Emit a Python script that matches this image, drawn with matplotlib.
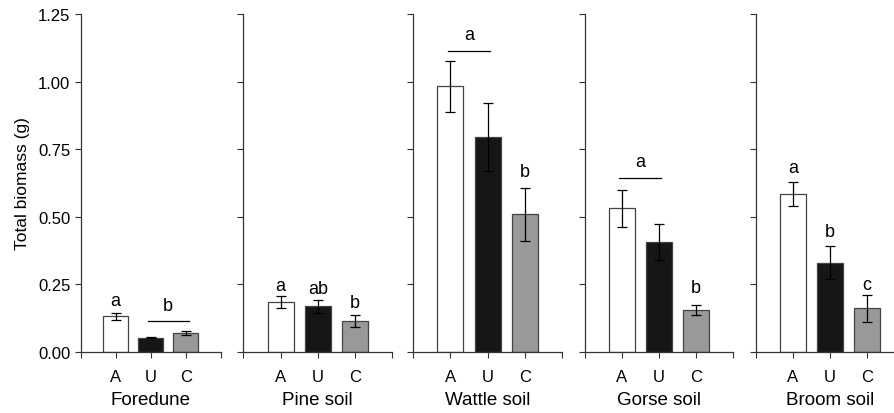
import matplotlib
matplotlib.use("Agg")
import matplotlib.pyplot as plt

plt.rcParams['font.family'] = ['Liberation Sans', 'DejaVu Sans']

categories = ['Foredune', 'Pine soil', 'Wattle soil', 'Gorse soil', 'Broom soil']
groups = ['A', 'U', 'C']
means = [
    [0.132, 0.052, 0.070],
    [0.185, 0.169, 0.115],
    [0.983, 0.796, 0.509],
    [0.531, 0.407, 0.156],
    [0.584, 0.330, 0.162],
]
errors = [
    [0.013, 0.002, 0.007],
    [0.022, 0.025, 0.022],
    [0.095, 0.125, 0.097],
    [0.068, 0.067, 0.019],
    [0.043, 0.061, 0.050],
]
# significance letters: (text, x, baseline y)
letters = [
    [('a', 1, 0.175), ('b', 2.5, 0.156)],
    [('a', 1, 0.228), ('ab', 2, 0.220), ('b', 3, 0.168)],
    [('a', 1.5, 1.159), ('b', 3, 0.651)],
    [('a', 1.5, 0.689), ('b', 3, 0.221)],
    [('a', 1, 0.664), ('b', 2, 0.428), ('c', 3, 0.232)],
]
# grouping lines: (x0, x1, y)
group_lines = [
    [(1.91, 3.10, 0.114)],
    [],
    [(0.93, 2.07, 1.113)],
    [(0.93, 2.05, 0.642)],
    [],
]
yticks = [0.0, 0.25, 0.5, 0.75, 1.0, 1.25]
bar_colors = ['white', '#161616', '#999999']

W, H = 895, 414
fig = plt.figure(figsize=(W / 100, H / 100), dpi=100)
panel_px = [(80.7, 220.7), (243.3, 392.3), (413.3, 562.0), (585.0, 733.0), (756.0, 904.0)]
bottom_px, top_px = 353.0, 15.0
spine_col = '#333333'

for i, cat in enumerate(categories):
    x0, x1 = panel_px[i]
    ax = fig.add_axes([x0 / W, (H - bottom_px) / H, (x1 - x0) / W, (bottom_px - top_px) / H])
    xs = [1, 2, 3]
    ax.bar(xs, means[i], width=0.7, color=bar_colors, edgecolor='#444444', linewidth=0.9, zorder=2)
    ax.errorbar(xs, means[i], yerr=errors[i], fmt='none', ecolor='black', elinewidth=0.9,
                capsize=3.5, capthick=0.9, zorder=3)
    for (t, x, y) in letters[i]:
        ax.text(x, y, t, ha='center', va='baseline', fontsize=13)
    for (a, b, y) in group_lines[i]:
        ax.plot([a, b], [y, y], color='black', linewidth=0.9)
    ax.set_xlim(0, 4)
    ax.set_ylim(0, 1.25)
    ax.set_xticks([0, 1, 2, 3, 4])
    ax.set_xticklabels([''] + groups + [''])
    ax.set_yticks(yticks)
    if i == 0:
        ax.set_yticklabels(['%.2f' % v for v in yticks])
        ax.set_ylabel('Total biomass (g)', fontsize=12.5, labelpad=6)
    else:
        ax.set_yticklabels([])
    ax.set_xlabel(cat, fontsize=13.5, labelpad=5.5)
    ax.tick_params(axis='both', direction='out', length=4, width=0.8, color=spine_col, labelsize=12)
    ax.tick_params(axis='x', pad=8)
    for s in ['top', 'right']:
        ax.spines[s].set_visible(False)
    for s in ['left', 'bottom']:
        ax.spines[s].set_color(spine_col)
        ax.spines[s].set_linewidth(0.9)
    ax.patch.set_alpha(0)

fig.savefig('out.png', dpi=100)
